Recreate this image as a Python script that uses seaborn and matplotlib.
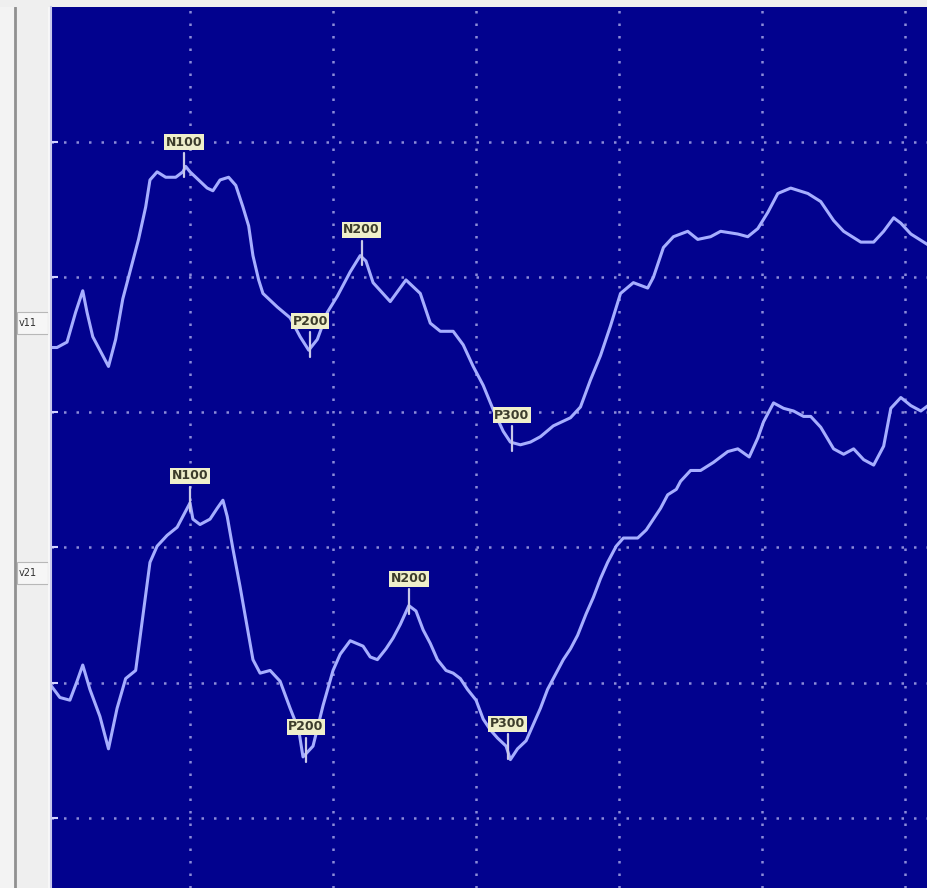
import numpy as np
import pandas as pd
import matplotlib
matplotlib.use("Agg")
import matplotlib.pyplot as plt
import seaborn as sns
from matplotlib.patches import Rectangle

# Averaged ERP waveforms, two channels (time in ms, amplitude in uV, drawn negative-up)
channels = ["v11", "v21"]

time_v11 = [2, 7, 14, 20, 25, 28, 32, 37, 43, 48, 53, 58, 64, 69, 72, 77, 83, 90, 95, 97,
            100, 106, 112, 116, 121, 127, 132, 137, 141, 144, 148, 151, 161, 170, 177, 183,
            189, 196, 203, 212, 219, 223, 228, 240, 251, 261, 268, 275, 284, 291, 298, 305,
            312, 319, 324, 331, 338, 345, 354, 366, 373, 380, 387, 394, 401, 410, 420, 424,
            431, 438, 448, 455, 464, 471, 483, 490, 497, 504, 511, 520, 532, 541, 550, 557,
            569, 578, 585, 592, 597, 604, 616]
amp_v11 = [0.0, 0.0, 0.2, 1.3, 2.1, 1.3, 0.4, -0.1, -0.7, 0.3, 1.8, 2.8, 4.0, 5.2, 6.2, 6.5,
           6.3, 6.3, 6.5, 6.7, 6.5, 6.2, 5.9, 5.8, 6.2, 6.3, 6.0, 5.2, 4.5, 3.4, 2.5, 2.0,
           1.5, 1.1, 0.4, -0.1, 0.3, 1.3, 1.9, 2.8, 3.4, 3.2, 2.4, 1.7, 2.5, 2.0, 0.9, 0.6,
           0.6, 0.1, -0.7, -1.4, -2.3, -3.1, -3.5, -3.6, -3.5, -3.3, -2.9, -2.6, -2.2, -1.2,
           -0.3, 0.8, 2.0, 2.4, 2.2, 2.6, 3.7, 4.1, 4.3, 4.0, 4.1, 4.3, 4.2, 4.1, 4.4, 5.0,
           5.7, 5.9, 5.7, 5.4, 4.7, 4.3, 3.9, 3.9, 4.3, 4.8, 4.6, 4.2, 3.8]

time_v21 = [2, 9, 16, 21, 25, 30, 37, 43, 49, 55, 62, 67, 72, 77, 84, 91, 98, 100, 102, 107,
            114, 119, 123, 126, 130, 135, 140, 144, 149, 156, 163, 170, 176, 179, 186, 193,
            200, 205, 212, 221, 226, 231, 237, 242, 247, 253, 258, 263, 268, 273, 279, 284,
            289, 294, 300, 305, 310, 315, 321, 324, 329, 335, 340, 345, 350, 356, 361, 366,
            371, 377, 382, 387, 392, 398, 403, 408, 413, 419, 424, 429, 434, 440, 443, 450,
            457, 466, 476, 483, 491, 497, 501, 508, 515, 522, 529, 534, 541, 550, 557, 564,
            571, 578, 585, 590, 597, 604, 611, 616]
amp_v21 = [0.2, -0.3, -0.4, 0.3, 0.9, 0.0, -1.0, -2.2, -0.7, 0.4, 0.7, 2.7, 4.7, 5.3, 5.7,
           6.0, 6.7, 6.9, 6.3, 6.1, 6.3, 6.7, 7.0, 6.4, 5.2, 3.8, 2.3, 1.1, 0.6, 0.7, 0.3,
           -0.7, -1.5, -2.5, -2.1, -0.6, 0.7, 1.3, 1.8, 1.6, 1.2, 1.1, 1.5, 1.9, 2.4, 3.1,
           2.9, 2.2, 1.7, 1.1, 0.7, 0.6, 0.4, 0.0, -0.4, -1.1, -1.5, -1.8, -2.1, -2.6, -2.2,
           -1.9, -1.3, -0.7, 0.0, 0.6, 1.1, 1.5, 2.0, 2.8, 3.4, 4.1, 4.7, 5.3, 5.6, 5.6, 5.6,
           5.9, 6.3, 6.7, 7.2, 7.4, 7.7, 8.1, 8.1, 8.4, 8.8, 8.9, 8.6, 9.3, 9.9, 10.6, 10.4,
           10.3, 10.1, 10.1, 9.7, 8.9, 8.7, 8.9, 8.5, 8.3, 9.0, 10.4, 10.8, 10.5, 10.3, 10.5]

# Marked components and their latencies (ms)
components = ["N100", "P200", "N200", "P300"]
latency_v11 = [96, 184, 220, 325]
latency_v21 = [100, 181, 253, 322]

# Display layout
offsets = {"v11": 17.4, "v21": 4.75}
bg_blue = "#02028e"
trace_col = "#a6aeff"
label_face = "#efefca"
label_text = "#3c3c2c"
grid_col = "#8c8cd8"

frames = []
for ch, t, a in [("v11", time_v11, amp_v11), ("v21", time_v21, amp_v21)]:
    frames.append(pd.DataFrame({"time": t,
                                "amp": np.asarray(a) + offsets[ch],
                                "channel": ch}))
df = pd.concat(frames, ignore_index=True)

sns.set_style("dark")
fig = plt.figure(figsize=(9.28, 8.88), dpi=100, facecolor="#efefef")

# Channel-name strip on the left
side = fig.add_axes([0, 0, 51 / 928, 881 / 888])
side.set_xlim(0, 51)
side.set_ylim(888, 7)
side.set_facecolor("#e7e7e7")
side.axis("off")
side.add_patch(Rectangle((0, 7), 14, 881, facecolor="#f3f3f3", edgecolor="none"))
side.plot([15, 15], [7, 888], color="#909090", lw=2)
side.plot([49.5, 49.5], [7, 888], color="#f8f8f8", lw=2)
for ch, ybox in [("v11", 323), ("v21", 573)]:
    side.add_patch(Rectangle((17, ybox - 11), 31, 22, facecolor="#f6f6f6",
                             edgecolor="#b8b8b8", lw=0.8))
    side.text(19, ybox, ch, fontsize=7, color="#303030", va="center", ha="left",
              family="DejaVu Sans")

ax = fig.add_axes([51 / 928, 0, 877 / 928, 881 / 888])
ax.set_facecolor(bg_blue)

sns.lineplot(data=df, x="time", y="amp", hue="channel",
             palette={"v11": trace_col, "v21": trace_col},
             estimator=None, sort=False, lw=2.2, legend=False, ax=ax)

ax.set_xlim(2.8, 616)
ax.set_ylim(-2.6, 30.0)
ax.set_xticks([100, 200, 300, 400, 500, 600])
ax.set_yticks([0, 5, 10, 15, 20, 25])
ax.grid(True, color=grid_col, lw=1.8, linestyle=(0, (1, 4)))
ax.tick_params(axis="y", direction="in", length=5, width=1.5, color="#d4d4ff",
               left=True, labelleft=False)
ax.tick_params(axis="x", bottom=False, labelbottom=False)
ax.set_xlabel("")
ax.set_ylabel("")
for name, sp in ax.spines.items():
    sp.set_visible(name == "left")
ax.spines["left"].set_color("#c8c8ec")
ax.spines["left"].set_linewidth(1.5)

# Component markers: tag above the peak with a short pointer
for ch, t, a, lats in [("v11", time_v11, amp_v11, latency_v11),
                       ("v21", time_v21, amp_v21, latency_v21)]:
    for comp, lat in zip(components, lats):
        yv = np.interp(lat, t, a) + offsets[ch]
        ax.plot([lat, lat], [yv + 0.6, yv - 0.3], color="#c8c8e8", lw=1.6,
                solid_capstyle="round", zorder=4)
        ax.text(lat, yv + 1.0, comp, fontsize=9, fontweight="bold",
                color=label_text, ha="center", va="center", zorder=5,
                family="DejaVu Sans",
                bbox=dict(boxstyle="square,pad=0.12", facecolor=label_face,
                          edgecolor="none"))

fig.savefig("out.png", dpi=100, facecolor=fig.get_facecolor())
